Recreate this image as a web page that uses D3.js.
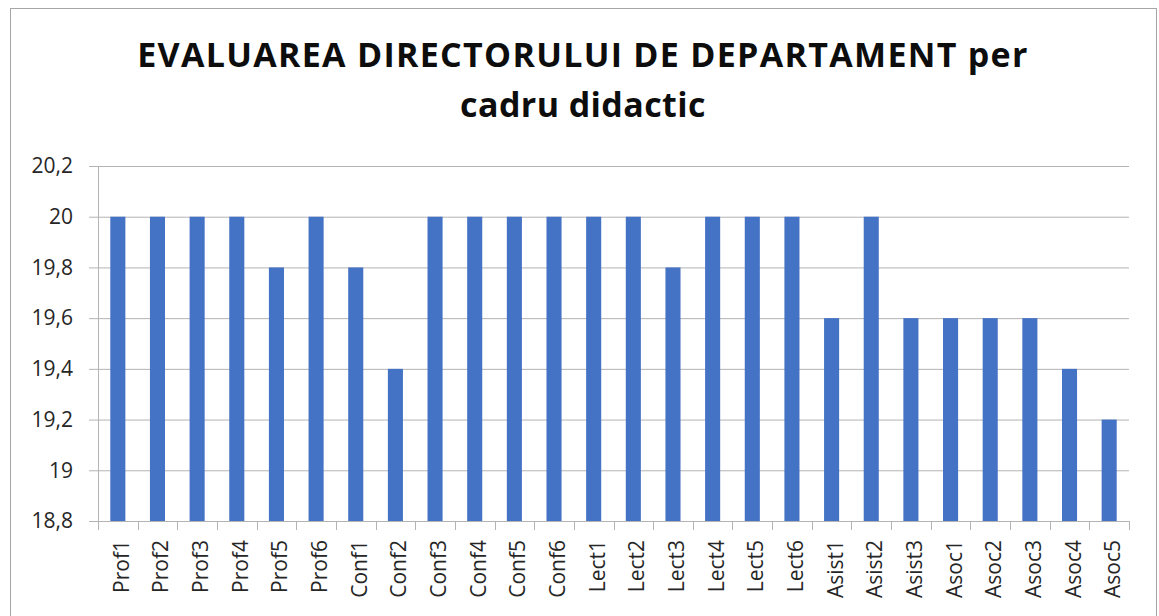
<!DOCTYPE html>
<html>
<head>
<meta charset="utf-8">
<script src="https://cdn.jsdelivr.net/npm/d3@7"></script>
<style>
  body { margin: 0; background: #fff; }
  svg { display: block; }
</style>
</head>
<body>
<script>
// data
var categories = ["Prof1", "Prof2", "Prof3", "Prof4", "Prof5", "Prof6",
	"Conf1", "Conf2", "Conf3", "Conf4", "Conf5", "Conf6",
	"Lect1", "Lect2", "Lect3", "Lect4", "Lect5", "Lect6",
	"Asist1", "Asist2", "Asist3",
	"Asoc1", "Asoc2", "Asoc3", "Asoc4", "Asoc5"];
var values = [20, 20, 20, 20, 19.8, 20,
	19.8, 19.4, 20, 20, 20, 20,
	20, 20, 19.8, 20, 20, 20,
	19.6, 20, 19.6,
	19.6, 19.6, 19.6, 19.4, 19.2];
var yTicks = [18.8, 19, 19.2, 19.4, 19.6, 19.8, 20, 20.2];
var titleLines = ["EVALUAREA DIRECTORULUI DE DEPARTAMENT per", "cadru didactic"];

var W = 1159, H = 616;
var plot = { left: 98, right: 1129, top: 166, bottom: 521 };
var font = "'Open Sans', sans-serif";

var svg = d3.select("body").append("svg")
	.attr("width", W)
	.attr("height", H);

// outer chart border
svg.append("rect")
	.attr("x", 10.5).attr("y", 8.5)
	.attr("width", 1146).attr("height", 620)
	.attr("fill", "#fff")
	.attr("stroke", "#a6a6a6")
	.attr("stroke-width", 1);

// title (letter-spacing widens it to the reference's line length)
svg.append("g").selectAll("text")
	.data(titleLines)
	.enter()
	.append("text")
	.attr("x", 583)
	.attr("y", function(d, i) { return 67 + i * 50; })
	.attr("text-anchor", "middle")
	.attr("font-family", font)
	.attr("font-weight", "bold")
	.attr("font-size", 34)
	.attr("letter-spacing", function(d, i) { return i == 0 ? 1.3 : 0.4; })
	.attr("fill", "#0d0d0d")
	.text(function(d) { return d; });

var x = d3.scaleBand()
	.domain(categories)
	.range([plot.left, plot.right])
	.paddingInner(0.62)
	.paddingOuter(0.31);

var y = d3.scaleLinear()
	.domain([18.8, 20.2])
	.range([plot.bottom, plot.top]);

// gridlines + y labels
var yAxis = d3.axisLeft(y)
	.tickValues(yTicks)
	.tickSize(-(plot.right - plot.left))
	.tickPadding(25)
	.tickFormat(function(d) { return d3.format(".1~f")(d).replace(".", ","); });

var gy = svg.append("g")
	.attr("transform", "translate(" + plot.left + ",0)")
	.call(yAxis);
gy.select(".domain").remove();
gy.selectAll(".tick line")
	.attr("x1", -9)
	.attr("stroke", "#b3b3b3")
	.attr("stroke-width", 1);
gy.selectAll(".tick text")
	.attr("font-family", font)
	.attr("font-size", 21)
	.attr("fill", "#262626");

// bars
svg.append("g").selectAll("rect")
	.data(values)
	.enter()
	.append("rect")
	.attr("x", function(d, i) { return x(categories[i]); })
	.attr("y", function(d) { return y(d); })
	.attr("width", x.bandwidth())
	.attr("height", function(d) { return y(18.8) - y(d); })
	.attr("fill", "#4472c4");

// vertical axis line
svg.append("line")
	.attr("x1", plot.left + 0.5).attr("x2", plot.left + 0.5)
	.attr("y1", plot.top).attr("y2", plot.bottom)
	.attr("stroke", "#b3b3b3");

// x axis: line, ticks at band boundaries, rotated labels
var bounds = d3.range(categories.length + 1).map(function(i) {
	return plot.left + i * (plot.right - plot.left) / categories.length;
});
svg.append("line")
	.attr("x1", plot.left).attr("x2", plot.right)
	.attr("y1", plot.bottom + 0.5).attr("y2", plot.bottom + 0.5)
	.attr("stroke", "#b3b3b3");
svg.append("g").selectAll("line")
	.data(bounds)
	.enter()
	.append("line")
	.attr("x1", function(d) { return Math.round(d) + 0.5; })
	.attr("x2", function(d) { return Math.round(d) + 0.5; })
	.attr("y1", plot.bottom)
	.attr("y2", plot.bottom + 9)
	.attr("stroke", "#b3b3b3");

svg.append("g").selectAll("text")
	.data(categories)
	.enter()
	.append("text")
	.attr("transform", function(d) {
		var cx = x(d) + x.bandwidth() / 2;
		return "translate(" + (cx + 11) + "," + 540 + ") rotate(-90)";
	})
	.attr("text-anchor", "end")
	.attr("font-family", font)
	.attr("font-size", 21)
	.attr("fill", "#262626")
	.text(function(d) { return d; });
</script>
</body>
</html>
